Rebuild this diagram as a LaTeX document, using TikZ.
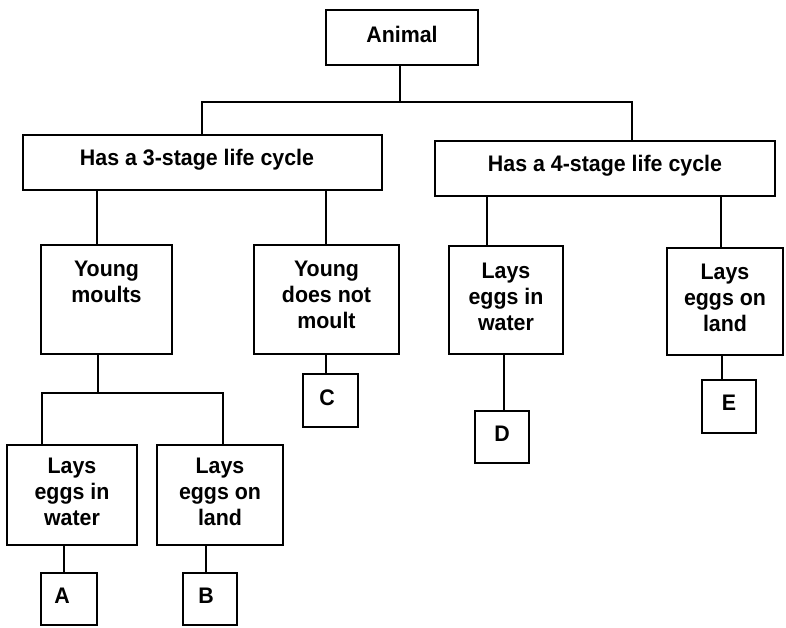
\documentclass[tikz,border=0pt]{standalone}
\usepackage{fontspec}
\setmainfont{Liberation Sans}
\newfontfamily\heavysans{Liberation Sans}[FakeStretch=0.95]
\begin{document}
\begin{tikzpicture}[x=1pt,y=-1pt,
  every node/.style={font=\heavysans\bfseries\fontsize{22.5}{26}\selectfont},
  box/.style={draw, line width=1.6pt, inner sep=0pt, rectangle},
  txt/.style={align=center, inner sep=0pt},
  link/.style={line width=1.6pt}]
\useasboundingbox (0,0) rectangle (786,627);
% boxes
\node[box, minimum width=152pt, minimum height=55pt] (an) at (402,37.5) {};
\node[txt] (tan) at (402,34) {Animal};
\node[box, minimum width=359pt, minimum height=55pt] (h3) at (202.5,162.5) {};
\node[txt] (th3) at (197,160) {Has a 3-stage life cycle};
\node[box, minimum width=340pt, minimum height=55pt] (h4) at (605,168.5) {};
\node[txt] (th4) at (605,166) {Has a 4-stage life cycle};
\node[box, minimum width=131pt, minimum height=109pt] (ym) at (106.5,299.5) {};
\node[txt] (tym) at (106.5,282) {Young\\moults};
\node[box, minimum width=145pt, minimum height=109pt] (yn) at (326.5,299.5) {};
\node[txt] (tyn) at (326.5,295) {Young\\does not\\moult};
\node[box, minimum width=114pt, minimum height=108pt] (lwr) at (506,300) {};
\node[txt] (tlwr) at (506,297) {Lays\\eggs in\\water};
\node[box, minimum width=116pt, minimum height=107pt] (llr) at (725,301.5) {};
\node[txt] (tllr) at (725,297.5) {Lays\\eggs on\\land};
\node[box, minimum width=55pt, minimum height=53pt] (c) at (330.5,400.5) {};
\node[txt] (tc) at (327,398) {C};
\node[box, minimum width=54pt, minimum height=52pt] (d) at (502,437) {};
\node[txt] (td) at (502,434) {D};
\node[box, minimum width=54pt, minimum height=53pt] (e) at (729,406.5) {};
\node[txt] (te) at (729,403) {E};
\node[box, minimum width=130pt, minimum height=100pt] (lw) at (72,495) {};
\node[txt] (tlw) at (72,492) {Lays\\eggs in\\water};
\node[box, minimum width=126pt, minimum height=100pt] (ll) at (220,495) {};
\node[txt] (tll) at (220,492) {Lays\\eggs on\\land};
\node[box, minimum width=56pt, minimum height=52pt] (a) at (69,599) {};
\node[txt] (ta) at (62,596) {A};
\node[box, minimum width=54pt, minimum height=52pt] (b) at (210,599) {};
\node[txt] (tb) at (206,596) {B};
% junctions
\coordinate (j1) at (400,102);
\coordinate (j1l) at (202,102);
\coordinate (j1r) at (632,102);
\coordinate (x97) at (97,0);
\coordinate (x326) at (326,0);
\coordinate (x487) at (487,0);
\coordinate (x721) at (721,0);
\coordinate (j2) at (98,393);
\coordinate (j2l) at (42,393);
\coordinate (j2r) at (223,393);
\coordinate (x504) at (504,0);
\coordinate (x722) at (722,0);
\coordinate (x64) at (64,0);
\coordinate (x206) at (206,0);
% connectors
\draw[link] (an.south -| j1) -- (j1);
\draw[link] (h3.north -| j1l) -- (j1l) -- (j1r) -- (h4.north -| j1r);
\draw[link] (h3.south -| x97) -- (ym.north -| x97);
\draw[link] (h3.south -| x326) -- (yn.north -| x326);
\draw[link] (h4.south -| x487) -- (lwr.north -| x487);
\draw[link] (h4.south -| x721) -- (llr.north -| x721);
\draw[link] (ym.south -| j2) -- (j2);
\draw[link] (lw.north -| j2l) -- (j2l) -- (j2r) -- (ll.north -| j2r);
\draw[link] (yn.south -| x326) -- (c.north -| x326);
\draw[link] (lwr.south -| x504) -- (d.north -| x504);
\draw[link] (llr.south -| x722) -- (e.north -| x722);
\draw[link] (lw.south -| x64) -- (a.north -| x64);
\draw[link] (ll.south -| x206) -- (b.north -| x206);
\end{tikzpicture}
\end{document}
